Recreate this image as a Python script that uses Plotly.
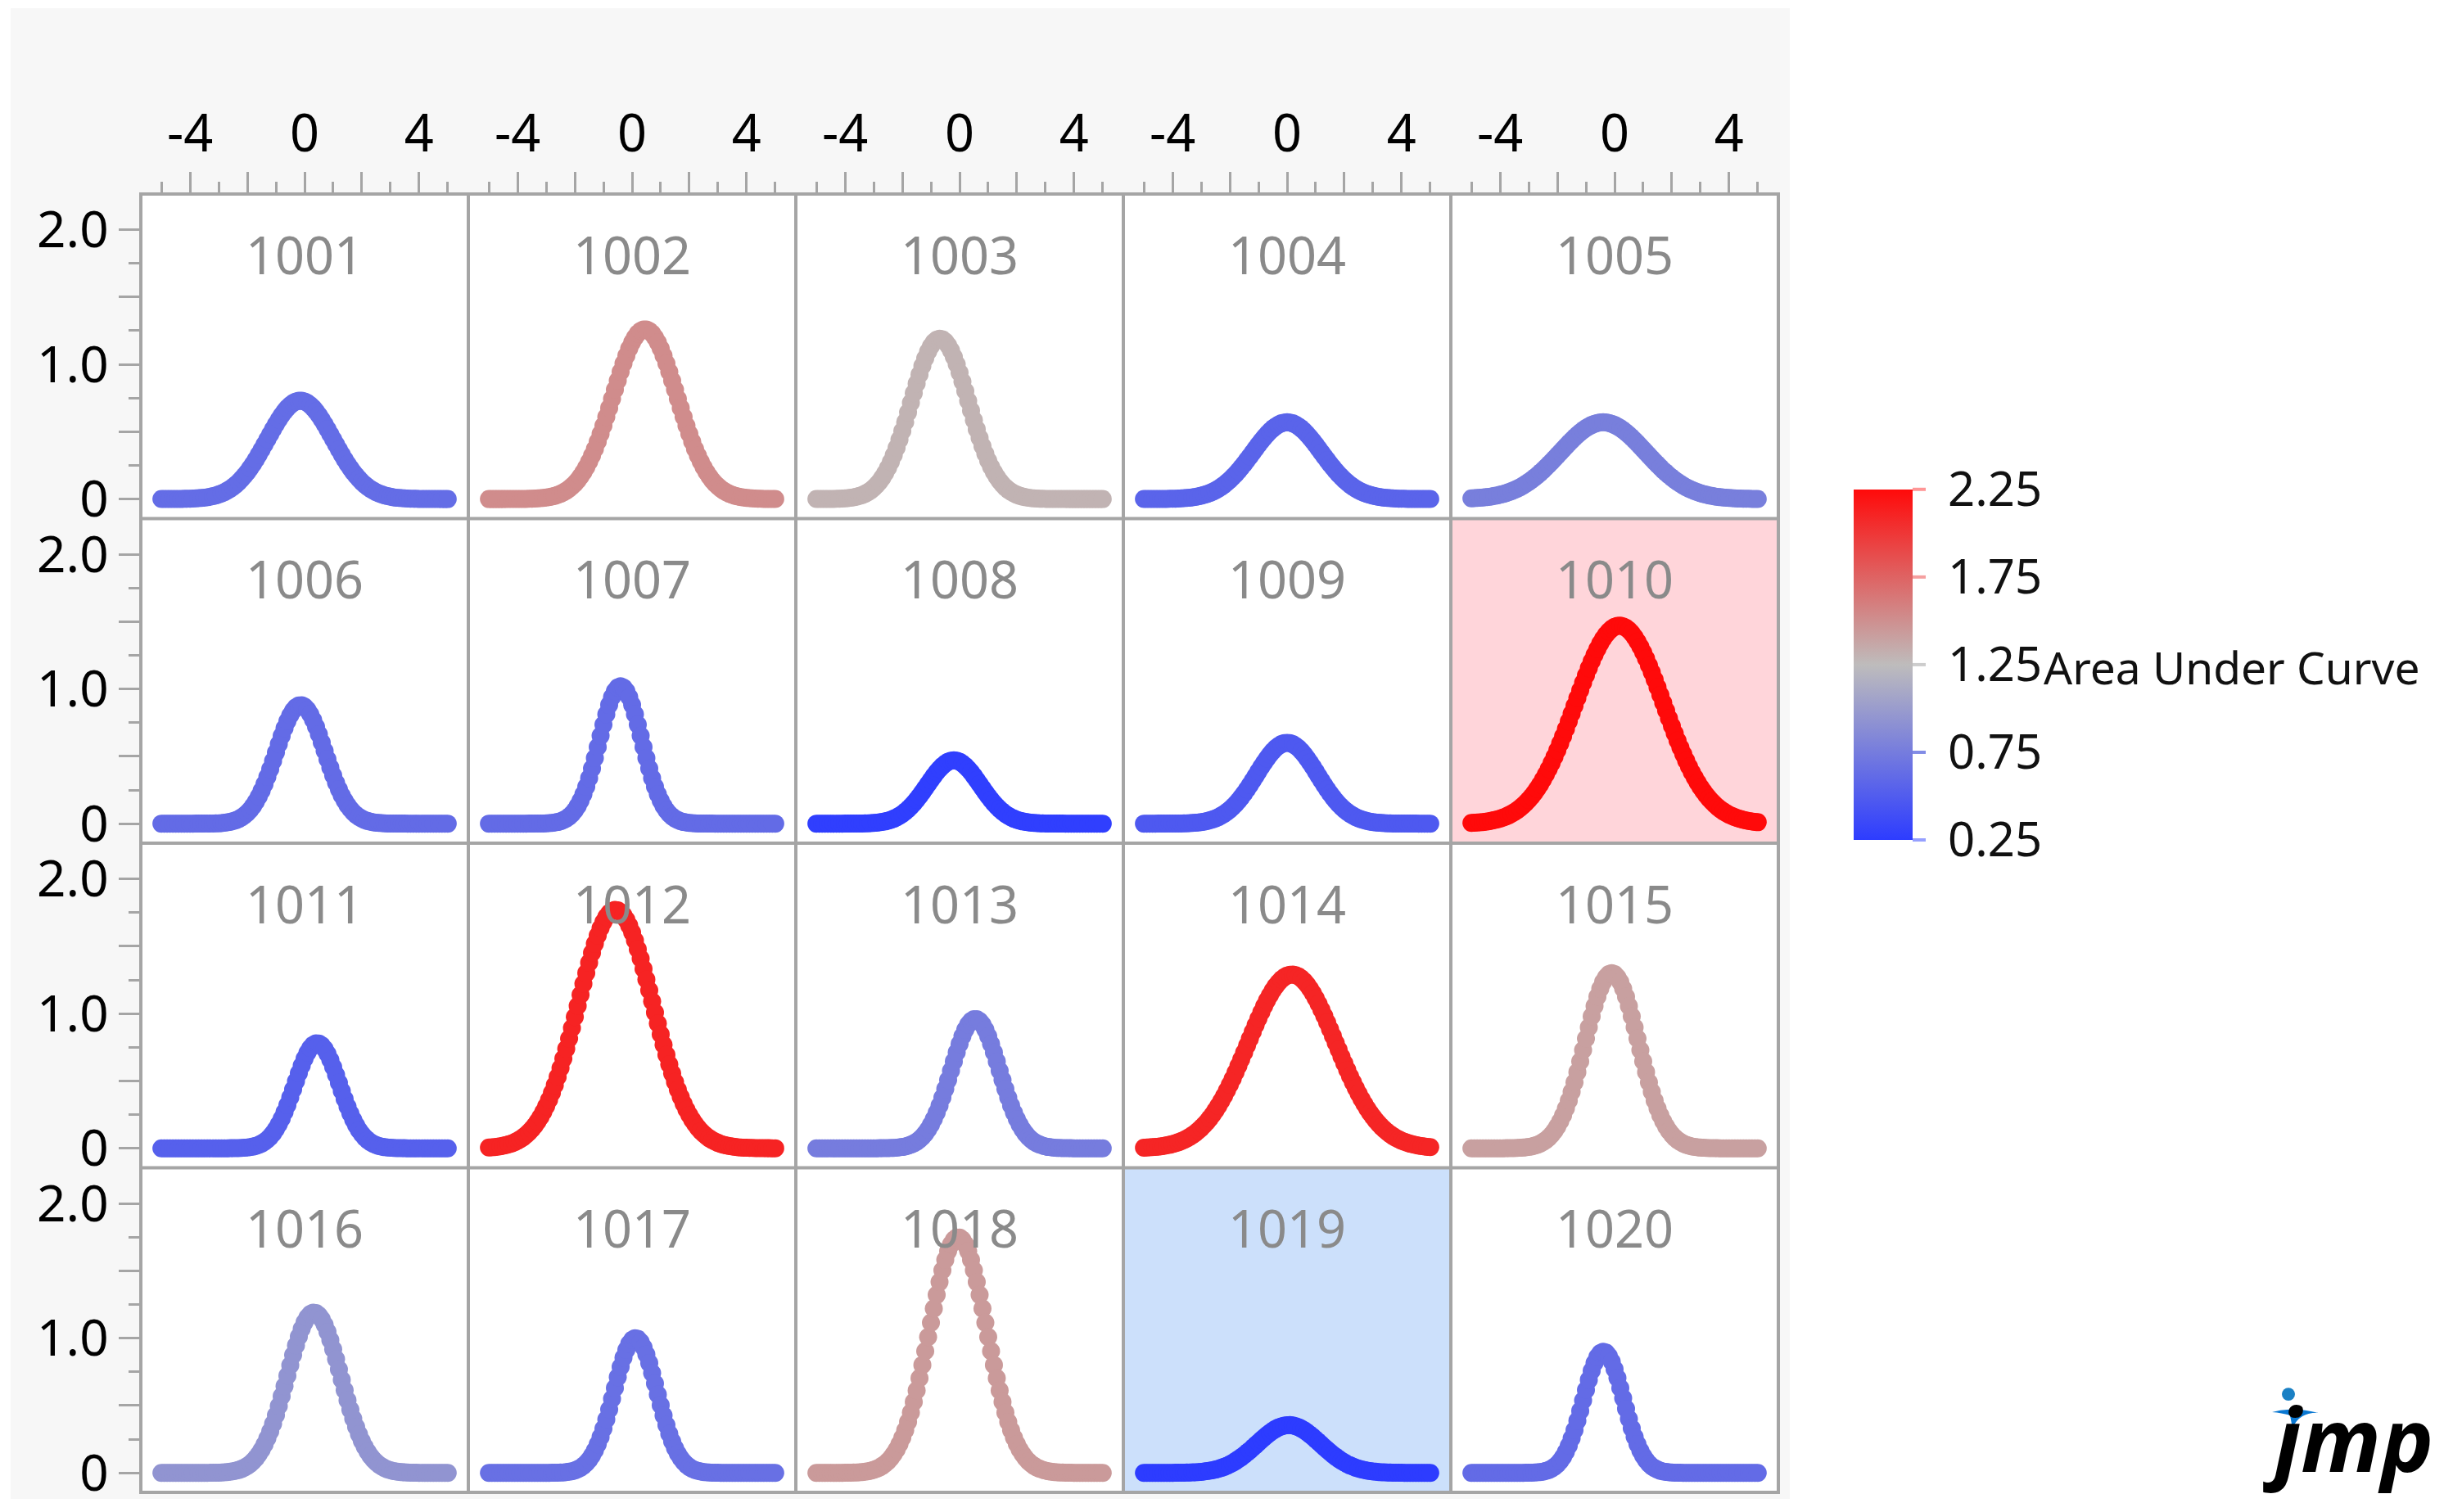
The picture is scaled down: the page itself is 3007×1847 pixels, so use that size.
import numpy as np
import plotly.graph_objects as go
from plotly.subplots import make_subplots

# ---------------- data ----------------
subjects = ["1001", "1002", "1003", "1004", "1005",
            "1006", "1007", "1008", "1009", "1010",
            "1011", "1012", "1013", "1014", "1015",
            "1016", "1017", "1018", "1019", "1020"]
peak_height = [0.73, 1.26, 1.19, 0.57, 0.57,
               0.88, 1.02, 0.47, 0.60, 1.47,
               0.78, 1.77, 0.96, 1.29, 1.30,
               1.19, 1.00, 1.75, 0.355, 0.90]
peak_center = [-0.15, 0.45, -0.69, 0.00, -0.40,
               -0.14, -0.40, -0.20, 0.00, 0.17,
               0.44, -0.58, 0.55, 0.17, -0.10,
               0.33, 0.12, -0.05, 0.06, -0.39]
peak_spread = [1.15, 1.12, 1.00, 1.20, 1.50,
               0.85, 0.74, 0.93, 1.07, 1.54,
               0.78, 1.30, 0.84, 1.53, 0.93,
               0.93, 0.75, 1.00, 1.11, 0.70]
area_under_curve = [0.63, 1.52, 1.30, 0.56, 0.77,
                    0.62, 0.62, 0.27, 0.48, 2.25,
                    0.53, 2.11, 0.75, 2.10, 1.41,
                    0.94, 0.66, 1.44, 0.25, 0.62]
highlighted = {"1010": "#FFD5DA", "1019": "#CCE0FB"}

x_tick_vals = [-4, -2, 0, 2, 4]
x_tick_text = ["-4", "", "0", "", "4"]
x_minor_vals = [-5, -3, -1, 1, 3, 5]
y_tick_vals = [0, 0.5, 1.0, 1.5, 2.0]
y_tick_text = ["0", "", "1.0", "", "2.0"]
y_minor_vals = [0.25, 0.75, 1.25, 1.75]
cbar_vals = [0.25, 0.75, 1.25, 1.75, 2.25]
cbar_text = ["0.25", "0.75", "1.25", "1.75", "2.25"]
x_grid = np.round(np.arange(-5.0, 5.0001, 0.1), 3)

# ---------------- layout constants ----------------
W, H = 3007, 1847
GL, GT, P = 172, 239, 400          # grid left, grid top, panel size (px)
NR, NC = 4, 5
FONT = "Segoe UI, Noto Sans, sans-serif"
BORDER = "#a5a5a5"
colorscale = [[0.0, "rgb(45,60,255)"], [0.5, "rgb(190,188,188)"], [1.0, "rgb(255,10,10)"]]

fig = make_subplots(rows=NR, cols=NC, horizontal_spacing=0, vertical_spacing=0)


def px_x(v):
    return v / W


def px_y(v):
    return 1 - v / H


for i, name in enumerate(subjects):
    r, c = divmod(i, NC)
    y = peak_height[i] * np.exp(-0.5 * ((x_grid - peak_center[i]) / peak_spread[i]) ** 2)
    fig.add_trace(
        go.Scatter(
            x=x_grid, y=y, mode="markers",
            marker=dict(size=22, color=[area_under_curve[i]] * len(x_grid),
                        colorscale=colorscale, cmin=0.25, cmax=2.25,
                        showscale=(i == 0),
                        colorbar=dict(
                            x=px_x(2264), xanchor="left", xpad=0,
                            y=px_y(819), yanchor="middle", ypad=0,
                            len=432 / H, lenmode="fraction",
                            thickness=72, thicknessmode="pixels",
                            outlinewidth=0,
                            tickmode="array", tickvals=cbar_vals, ticktext=cbar_text,
                            ticks="outside", ticklen=32, tickcolor="rgba(0,0,0,0)",
                            tickfont=dict(family=FONT, size=58, color="#111111"),
                        )),
            showlegend=False, hoverinfo="skip",
        ),
        row=r + 1, col=c + 1,
    )

# grey backdrop behind the whole graph, white panels on top of it
fig.add_shape(type="rect", xref="paper", yref="paper",
              x0=px_x(13), x1=px_x(2186), y0=0, y1=px_y(10),
              fillcolor="#f7f7f7", line=dict(width=0), layer="below")
fig.add_shape(type="rect", xref="paper", yref="paper",
              x0=px_x(GL), x1=px_x(GL + NC * P), y0=px_y(GT + NR * P), y1=px_y(GT),
              fillcolor="#ffffff", line=dict(width=0), layer="below")

for i, name in enumerate(subjects):
    r, c = divmod(i, NC)
    n = i + 1
    xa = "xaxis" if n == 1 else f"xaxis{n}"
    ya = "yaxis" if n == 1 else f"yaxis{n}"
    xd = [px_x(GL + c * P), px_x(GL + (c + 1) * P)]
    yd = [px_y(GT + (r + 1) * P), px_y(GT + r * P)]
    xprops = dict(domain=xd, range=[-5.72, 5.72], showgrid=False, zeroline=False,
                  showline=False, fixedrange=True)
    yprops = dict(domain=yd, range=[-0.145, 2.265], showgrid=False, zeroline=False,
                  showline=False, fixedrange=True)
    if r == 0:
        xprops.update(side="top", ticks="outside", tickmode="array",
                      tickvals=x_tick_vals, ticktext=x_tick_text,
                      ticklen=26, tickwidth=3, tickcolor=BORDER,
                      tickfont=dict(family=FONT, size=63, color="#000000"),
                      minor=dict(tickmode="array", tickvals=x_minor_vals, ticks="outside",
                                 ticklen=14, tickwidth=3, tickcolor=BORDER))
    else:
        xprops.update(showticklabels=False, ticks="")
    if c == 0:
        yprops.update(ticks="outside", tickmode="array",
                      tickvals=y_tick_vals, ticktext=y_tick_text,
                      ticklen=26, tickwidth=3, tickcolor=BORDER,
                      tickfont=dict(family=FONT, size=62, color="#000000"),
                      minor=dict(tickmode="array", tickvals=y_minor_vals, ticks="outside",
                                 ticklen=14, tickwidth=3, tickcolor=BORDER))
    else:
        yprops.update(showticklabels=False, ticks="")
    fig.layout[xa].update(xprops)
    fig.layout[ya].update(yprops)

    xr = "x" if n == 1 else f"x{n}"
    yr = "y" if n == 1 else f"y{n}"
    if name in highlighted:
        fig.add_shape(type="rect", xref="paper", yref="paper",
                      x0=xd[0], x1=xd[1], y0=yd[0], y1=yd[1], fillcolor=highlighted[name],
                      line=dict(width=0), layer="below")
    fig.add_annotation(text=name, xref=f"{xr} domain", yref=f"{yr} domain",
                       x=0.5, y=1 - 74 / P, xanchor="center", yanchor="middle",
                       showarrow=False, font=dict(family=FONT, size=63, color="#8a8a8a"))

# panel borders
for c in range(NC + 1):
    xv = px_x(GL + c * P)
    fig.add_shape(type="line", xref="paper", yref="paper", x0=xv, x1=xv,
                  y0=px_y(GT + NR * P + 2), y1=px_y(GT - 2),
                  line=dict(color=BORDER, width=4), layer="above")
for r in range(NR + 1):
    yv = px_y(GT + r * P)
    fig.add_shape(type="line", xref="paper", yref="paper", x0=px_x(GL - 2), x1=px_x(GL + NC * P + 2),
                  y0=yv, y1=yv, line=dict(color=BORDER, width=4), layer="above")

# coloured colour-bar ticks
cb_top, cb_bot = 603, 1035
tick_cols = ["rgb(150,160,255)", "rgb(130,140,230)", "rgb(205,205,205)", "rgb(245,160,160)", "rgb(255,150,150)"]
for v, col in zip(cbar_vals, tick_cols):
    yy = cb_bot - (v - 0.25) / 2.0 * (cb_bot - cb_top)
    fig.add_shape(type="line", xref="paper", yref="paper", x0=px_x(2336), x1=px_x(2352),
                  y0=px_y(yy), y1=px_y(yy), line=dict(color=col, width=4))

fig.add_annotation(text="Area Under Curve", xref="paper", yref="paper",
                   x=px_x(2494), y=px_y(822), xanchor="left", yanchor="middle",
                   showarrow=False, font=dict(family=FONT, size=55, color="#111111"))

# JMP logo (text + mark)
fig.add_annotation(text="<b><i>jmp</i></b>", xref="paper", yref="paper",
                   x=px_x(2868), y=px_y(1772), xanchor="center", yanchor="middle",
                   showarrow=False, font=dict(family="Noto Sans, sans-serif", size=108, color="#000000"))
fig.add_shape(type="circle", xref="paper", yref="paper",
              x0=px_x(2787), x1=px_x(2803), y0=px_y(1726), y1=px_y(1710),
              fillcolor="#1a80c4", line=dict(width=0))
fig.add_shape(type="path", xref="paper", yref="paper",
              path=(f"M {px_x(2775)},{px_y(1740)} Q {px_x(2800)},{px_y(1733)} {px_x(2832)},{px_y(1741)} "
                    f"Q {px_x(2808)},{px_y(1740)} {px_x(2800)},{px_y(1760)} "
                    f"L {px_x(2797)},{px_y(1744)} Q {px_x(2788)},{px_y(1741)} {px_x(2775)},{px_y(1740)} Z"),
              fillcolor="#0a78d2", line=dict(width=0))

fig.update_layout(width=W, height=H, autosize=False,
                  margin=dict(l=0, r=0, t=0, b=0, pad=0),
                  paper_bgcolor="white", plot_bgcolor="rgba(0,0,0,0)",
                  font=dict(family=FONT))

fig.write_html("out.html")
